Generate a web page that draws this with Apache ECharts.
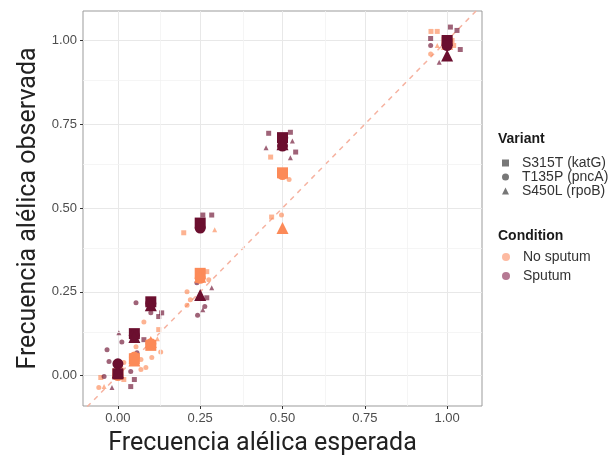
<!DOCTYPE html>
<html>
<head>
<meta charset="utf-8">
<script src="https://cdn.jsdelivr.net/npm/echarts@6/dist/echarts.min.js"></script>
<style>
  html, body { margin: 0; padding: 0; background: #fff; }
  #chart { width: 611px; height: 457px; }
</style>
</head>
<body>
<div id="chart"></div>
<script>
// esperada (eje x)
const expected = [0, 0.05, 0.10, 0.25, 0.50, 1.00]

// medias por condición y variante
const meanNoS315T = [0.005, 0.05, 0.09, 0.305, 0.605, 0.995]
const meanNoT135P = [0.0, 0.055, 0.095, 0.29, 0.60, 0.99]
const meanNoS450L = [0.01, 0.045, 0.10, 0.295, 0.44, 0.99]
const meanSpS315T = [0.005, 0.125, 0.22, 0.455, 0.71, 1.0]
const meanSpT135P = [0.035, 0.12, 0.215, 0.44, 0.685, 0.985]
const meanSpS450L = [0.01, 0.115, 0.21, 0.24, 0.69, 0.955]

// réplicas [esperada, observada]
const repNoS315T = [[0.951, 1.027], [0.97, 1.027], [0.2, 0.426], [0.27, 0.31], [-0.052, -0.006],
  [0.018, -0.012], [0.124, 0.137], [0.464, 0.652], [0.467, 0.473], [1.015, 1.0], [1.02, 0.985]]
const repNoT135P = [[0.95, 0.96], [0.276, 0.286], [0.21, 0.25], [0.22, 0.226], [0.21, 0.21],
  [0.079, 0.16], [0.103, 0.054], [0.085, 0.024], [0.13, 0.07], [0.018, 0.039], [0.07, 0.048],
  [0.055, 0.086], [-0.058, -0.036], [0.07, 0.018], [0.009, 0.024], [0.497, 0.479], [0.52, 0.585]]
const repNoS450L = [[0.294, 0.435], [0.97, 0.985], [-0.042, -0.033], [0.51, 0.595], [0.12, 0.11]]
const repSpS315T = [[0.05, -0.012], [0.039, -0.033], [0.079, 0.107], [0.124, 0.176], [0.133, 0.187],
  [0.258, 0.479], [0.285, 0.479], [0.27, 0.232], [0.458, 0.723], [0.524, 0.726], [0.54, 0.667],
  [1.01, 1.04], [1.03, 1.03], [0.95, 1.006], [1.04, 0.973]]
const repSpT135P = [[-0.042, -0.003], [0.039, 0.012], [-0.027, 0.042], [0.012, 0.1], [0.058, 0.068],
  [-0.033, 0.077], [0.1, 0.187], [0.055, 0.217], [0.24, 0.277], [0.264, 0.206], [0.242, 0.18],
  [0.51, 0.71], [0.95, 0.985], [1.01, 1.0]]
const repSpS450L = [[-0.018, -0.036], [0.003, 0.128], [0.285, 0.262], [0.258, 0.196], [0.45, 0.68],
  [0.53, 0.70], [0.524, 0.65], [0.976, 0.935]]

const majorTicks = [0, 0.25, 0.5, 0.75, 1]
const minorTicks = [0.125, 0.375, 0.625, 0.875]
const identityLine = [[-0.2, -0.2], [1.2, 1.2]]

const variants = ['S315T (katG)', 'T135P (pncA)', 'S450L (rpoB)']
const conditions = ['No sputum', 'Sputum']

const colNo = '#fc8a58'
const colSp = '#6b0f2f'

const chart = echarts.init(document.getElementById('chart'))

const meanSeries = (data, symbol, color, size) => ({
  type: 'scatter',
  symbol,
  symbolSize: size,
  data: expected.map((x, i) => [x, data[i]]),
  itemStyle: { color, opacity: 1 },
  z: 5,
  silent: true
})

const repSeries = (data, symbol, color) => ({
  type: 'scatter',
  symbol,
  symbolSize: 5,
  data,
  itemStyle: { color, opacity: 0.65 },
  z: 3,
  silent: true
})

const legendDummy = (name, color) => ({
  name,
  type: 'scatter',
  data: [],
  itemStyle: { color }
})

const axisCommon = {
  type: 'value',
  nameLocation: 'middle',
  axisLine: { show: false, onZero: false },
  axisTick: { show: true, customValues: majorTicks, length: 3, lineStyle: { color: '#333' } },
  axisLabel: {
    customValues: majorTicks,
    formatter: v => v.toFixed(2),
    fontFamily: 'Liberation Sans', fontSize: 13, color: '#4d4d4d', margin: 6
  },
  splitLine: { show: true, lineStyle: { color: '#e8e8e8', width: 1 } }
}

chart.setOption({
  animation: false,
  grid: {
    left: 83,
    right: 129,
    top: 11,
    bottom: 51,
    outerBoundsMode: 'none',
    show: true,
    borderColor: '#9b9b9b',
    borderWidth: 1
  },
  title: [
    { text: 'Variant', left: 498, top: 132, padding: 0,
      textStyle: { fontFamily: 'Liberation Sans', fontSize: 14, fontWeight: 'bold', color: '#1a1a1a' } },
    { text: 'Condition', left: 498, top: 229, padding: 0,
      textStyle: { fontFamily: 'Liberation Sans', fontSize: 14, fontWeight: 'bold', color: '#1a1a1a' } }
  ],
  legend: [
    {
      data: [
        { name: variants[0], icon: 'rect' },
        { name: variants[1], icon: 'circle' },
        { name: variants[2], icon: 'triangle' }
      ],
      orient: 'vertical',
      left: 502,
      top: 156,
      padding: 0,
      itemWidth: 7,
      itemHeight: 7,
      itemGap: 0,
      selectedMode: false,
      textStyle: { fontFamily: 'Liberation Sans', fontSize: 14, color: '#333', lineHeight: 10.5, padding: [0, 0, 0, 8] }
    },
    {
      data: [
        { name: conditions[0], icon: 'circle' },
        { name: conditions[1], icon: 'circle' }
      ],
      orient: 'vertical',
      left: 502,
      top: 250,
      padding: 0,
      itemWidth: 8,
      itemHeight: 8,
      itemGap: 5,
      selectedMode: false,
      textStyle: { fontFamily: 'Liberation Sans', fontSize: 14, color: '#333', lineHeight: 14, padding: [0, 0, 0, 8] }
    }
  ],
  xAxis: Object.assign({}, axisCommon, {
    min: -0.106,
    max: 1.106,
    name: 'Frecuencia alélica esperada',
    nameGap: 25,
    nameTextStyle: { fontFamily: 'Roboto', fontSize: 25, color: '#222', padding: [0, 40, 0, 0] }
  }),
  yAxis: Object.assign({}, axisCommon, {
    min: -0.091,
    max: 1.088,
    name: 'Frecuencia alélica observada',
    nameGap: 36,
    nameTextStyle: { fontFamily: 'Roboto', fontSize: 25, color: '#222' }
  }),
  series: [
    {
      type: 'line',
      data: identityLine,
      symbol: 'none',
      silent: true,
      z: 2,
      lineStyle: { color: '#f6b3a1', width: 1.5, type: [5, 5] },
      markLine: {
        silent: true,
        symbol: 'none',
        label: { show: false },
        lineStyle: { color: '#f3f3f3', width: 0.8, type: 'solid' },
        data: minorTicks.map(v => ({ xAxis: v })).concat(minorTicks.map(v => ({ yAxis: v })))
      }
    },
    repSeries(repNoS315T, 'rect', colNo),
    repSeries(repNoT135P, 'circle', colNo),
    repSeries(repNoS450L, 'triangle', colNo),
    repSeries(repSpS315T, 'rect', colSp),
    repSeries(repSpT135P, 'circle', colSp),
    repSeries(repSpS450L, 'triangle', colSp),
    meanSeries(meanNoS315T, 'rect', colNo, 11),
    meanSeries(meanNoT135P, 'circle', colNo, 11),
    meanSeries(meanNoS450L, 'triangle', colNo, 12),
    meanSeries(meanSpS315T, 'rect', colSp, 11),
    meanSeries(meanSpT135P, 'circle', colSp, 11),
    meanSeries(meanSpS450L, 'triangle', colSp, 12),
    legendDummy(variants[0], '#555'),
    legendDummy(variants[1], '#555'),
    legendDummy(variants[2], '#555'),
    legendDummy(conditions[0], '#fca98a'),
    legendDummy(conditions[1], '#a35878')
  ]
})
</script>
</body>
</html>
